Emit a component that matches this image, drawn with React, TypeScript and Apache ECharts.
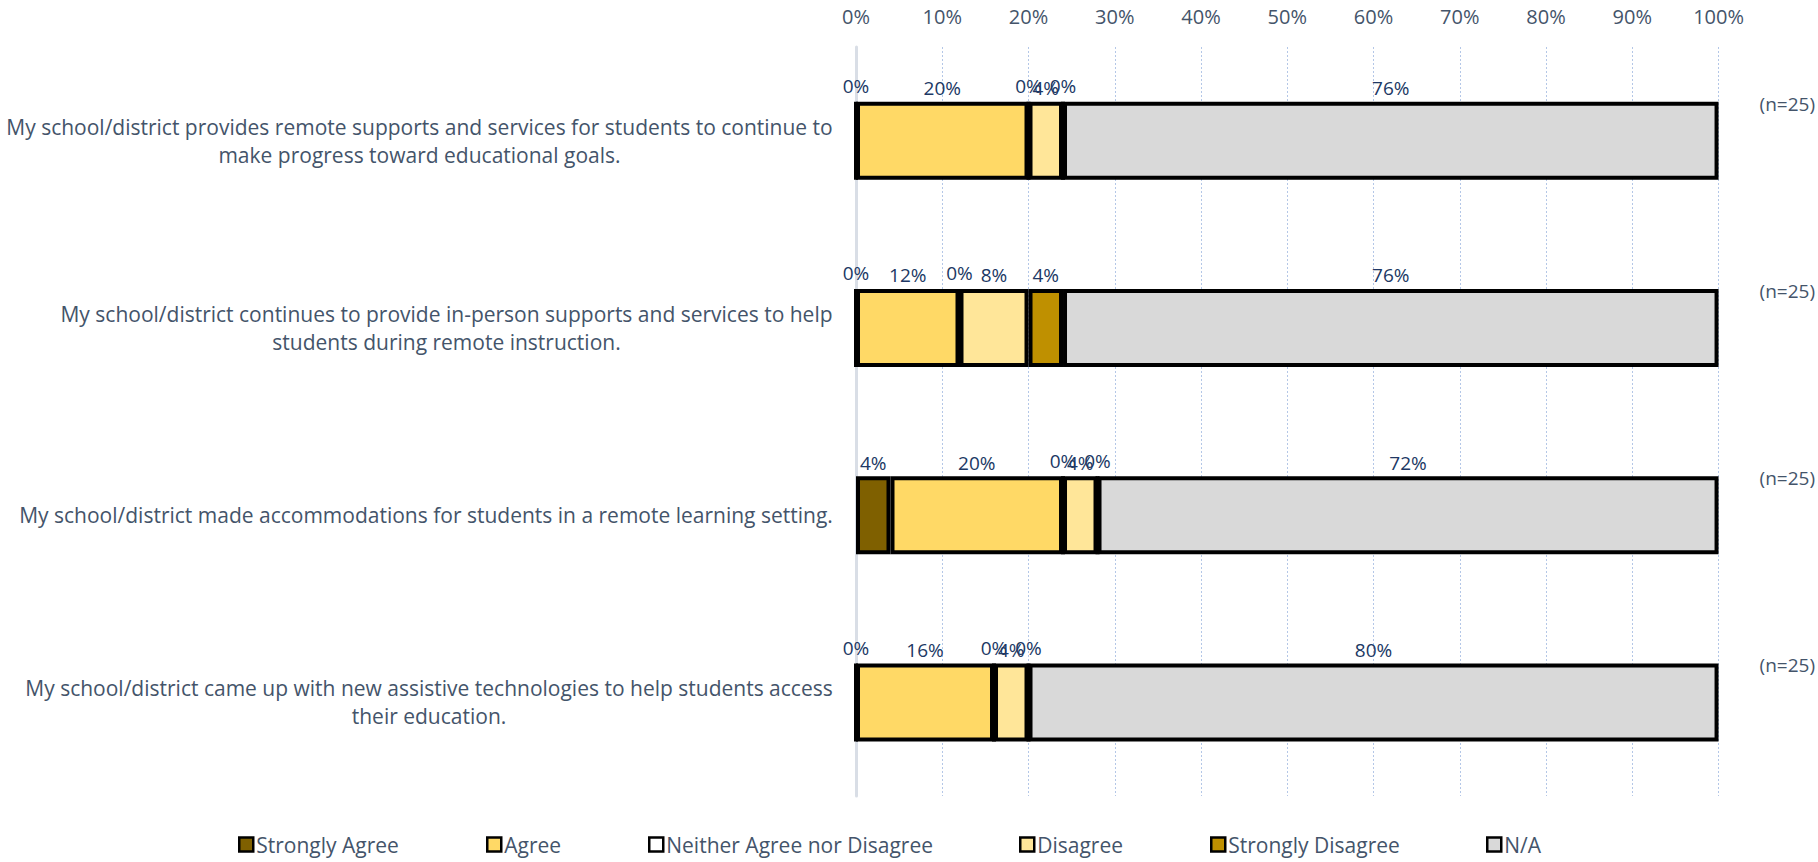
import React, { useEffect, useRef } from "react";
import * as echarts from "echarts";

const categories = [
  "My school/district provides remote supports and services for students to continue to\nmake progress toward educational goals.",
  "My school/district continues to provide in-person supports and services to help\nstudents during remote instruction.",
  "My school/district made accommodations for students in a remote learning setting.",
  "My school/district came up with new assistive technologies to help students access\ntheir education.",
];
const nLabels = ["(n=25)", "(n=25)", "(n=25)", "(n=25)"];
const seriesNames = [
  "Strongly Agree",
  "Agree",
  "Neither Agree nor Disagree",
  "Disagree",
  "Strongly Disagree",
  "N/A",
];
const stronglyAgree = [0, 0, 4, 0];
const agree = [20, 12, 20, 16];
const neither = [0, 0, 0, 0];
const disagree = [4, 8, 4, 4];
const stronglyDisagree = [0, 4, 0, 0];
const notApplicable = [76, 76, 72, 80];
const xTicks = [0, 10, 20, 30, 40, 50, 60, 70, 80, 90, 100];

const seriesValues = [stronglyAgree, agree, neither, disagree, stronglyDisagree, notApplicable];
const colors = ["#7F6000", "#FFD966", "#FFFFFF", "#FFE699", "#BF9000", "#D9D9D9"];
const legendLeft = [238, 486, 648, 1019, 1210, 1486];

const FONT = "'Open Sans', 'Noto Sans', sans-serif";
const CAT_SIZE = 21;
const SLATE = "#44546A";
const NAVY = "#203864";

export default function App() {
  const ref = useRef<HTMLDivElement>(null);
  useEffect(() => {
    if (!ref.current) return;
    const chart = echarts.init(ref.current, null, { renderer: "svg" });

    const canvas = document.createElement("canvas");
    const ctx = canvas.getContext("2d")!;
    ctx.font = `${CAT_SIZE}px 'Open Sans'`;
    const rich: Record<string, any> = {};
    categories.forEach((c, i) => {
      const w = Math.max(...c.split("\n").map((l) => ctx.measureText(l).width));
      rich["c" + i] = {
        width: Math.ceil(w) + 2,
        align: "center",
        fontSize: CAT_SIZE,
        fontFamily: FONT,
        color: SLATE,
        lineHeight: 28,
      };
    });

    const series = seriesNames.map((name, si) => ({
      name,
      type: "bar",
      stack: "total",
      barWidth: 78,
      data: seriesValues[si],
      itemStyle: { color: colors[si], borderColor: "#000000", borderWidth: 4 },
      label: {
        show: true,
        position: "top",
        distance: 4,
        formatter: (p: any) => `${p.value}%`,
        color: NAVY,
        fontSize: 19,
        fontFamily: FONT,
      },
      emphasis: { disabled: true },
    }));

    const legends = seriesNames.map((name, i) => ({
      data: [name],
      left: legendLeft[i],
      top: 834,
      icon: "rect",
      itemWidth: 14,
      itemHeight: 14,
      itemStyle: { borderColor: "#000000", borderWidth: 2.5 },
      textStyle: { color: SLATE, fontSize: 21, fontFamily: FONT, padding: [0, 0, 0, -2] },
      selectedMode: false,
      padding: 0,
    }));

    chart.setOption({
      animation: false,
      backgroundColor: "#FFFFFF",
      textStyle: { fontFamily: FONT },
      grid: { left: 856, right: 97, top: 47, bottom: 66, containLabel: false },
      legend: legends,
      xAxis: {
        type: "value",
        position: "top",
        min: 0,
        max: 100,
        interval: 10,
        axisLine: { show: false },
        axisTick: { show: false },
        axisLabel: {
          margin: 21,
          formatter: (v: number) => (xTicks.includes(v) ? `${v}%` : ""),
          color: SLATE,
          fontSize: 20,
          fontFamily: FONT,
        },
        splitLine: { show: true, lineStyle: { color: "#B4C7E7", type: [2, 2], width: 1 } },
      },
      yAxis: [
        {
          type: "category",
          data: categories,
          inverse: true,
          axisTick: { show: false },
          axisLine: { show: true, lineStyle: { color: "#D9DEE6", width: 3 } },
          axisLabel: {
            margin: 22,
            formatter: (v: string, i: number) =>
              v
                .split("\n")
                .map((l) => `{c${i}|${l}}`)
                .join("\n"),
            rich,
          },
        },
        {
          type: "category",
          data: categories,
          inverse: true,
          position: "right",
          axisTick: { show: false },
          axisLine: { show: false },
          axisLabel: {
            margin: 41,
            formatter: (_v: string, i: number) => `${nLabels[i]}\n\u00A0`,
            color: SLATE,
            fontSize: 19,
            fontFamily: FONT,
            lineHeight: 74,
          },
        },
      ],
      series,
    });
    return () => chart.dispose();
  }, []);
  return (
    <div
      ref={ref}
      style={{ position: "fixed", left: 0, top: 0, width: 1818, height: 862, background: "#fff" }}
    />
  );
}
